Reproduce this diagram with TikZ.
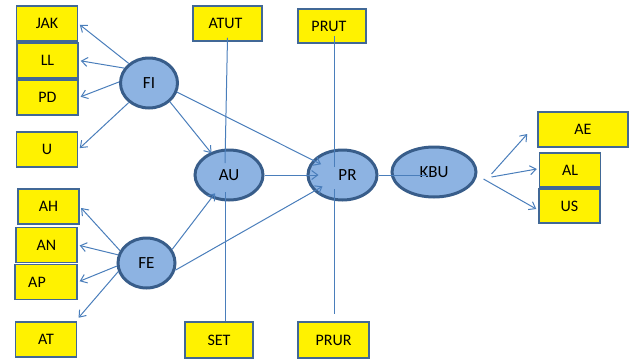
\documentclass[tikz,border=0pt]{standalone}
\usepackage{fontspec}
\setmainfont{Carlito}
\usetikzlibrary{shapes.geometric,arrows.meta}
\definecolor{boxline}{RGB}{65,104,150}
\definecolor{ellfill}{RGB}{141,179,226}
\definecolor{ellline}{RGB}{56,93,138}
\definecolor{linkblue}{RGB}{74,126,187}

\begin{document}
\begin{tikzpicture}[
x=1pt,y=-1pt,
box/.style={
  draw=boxline,
  fill=yellow,
  line width=1.5pt,
  minimum width=61pt,
  minimum height=35pt,
  inner sep=0pt,
  font=\fontsize{16}{18}\selectfont
  },
latent/.style={
  ellipse,
  draw=ellline,
  fill=ellfill,
  line width=3pt,
  minimum height=50pt,
  inner sep=0pt,
  font=\fontsize{17}{19}\selectfont
  },
link/.style={
  draw=linkblue,
  line width=1pt
  },
>={Straight Barb[length=6pt,width=9pt]}
]
\useasboundingbox (0,0) rectangle (629,362);

% indicators
\node[box] (JAK) at (47,23.5) {JAK};
\node[box] (LL) at (47.5,60.5) {LL};
\node[box] (PD) at (47.5,97.5) {PD};
\node[box] (U) at (47,149.5) {U};
\node[box] (AH) at (48.5,206.5) {AH};
\node[box] (AN) at (46.5,245) {AN};
\node[box, minimum width=62pt] (AP) at (46,282) {\hspace*{-18pt}AP};
\node[box] (AT) at (46,339.5) {AT};
\node[box, minimum width=69pt] (ATUT) at (227.5,23.5) {\hspace*{-4pt}ATUT};
\node[box, minimum width=68pt, minimum height=34pt] (PRUT) at (332,26) {\hspace*{-6pt}PRUT};
\node[box, minimum width=68pt, minimum height=36pt] (SET) at (219,340) {SET};
\node[box, minimum width=71pt, minimum height=36pt] (PRUR) at (333.5,340) {PRUR};
\node[box, minimum width=90pt] (AE) at (583,129.5) {AE};
\node[box, minimum height=34pt] (AL) at (570,170) {AL};
\node[box, minimum height=34pt] (US) at (569.5,206) {US};

% latent variables
\node[latent, minimum width=57pt] (FI) at (149,83) {FI};
\node[latent, minimum width=57pt] (FE) at (146.5,263) {FE};
\node[latent, minimum width=68pt] (AU) at (229,175) {AU};
\node[latent, minimum width=69pt] (PR) at (342.5,175) {\hspace*{10pt}PR};
\node[latent, minimum width=84pt] (KBU) at (434,172) {KBU};

% vertical lines
\draw[link] ([yshift=4pt]ATUT.south) -- ([xshift=-4pt,yshift=12pt]AU.center);
\draw[link] ([xshift=-4pt,yshift=-17pt]AU.center) -- ([xshift=6pt]SET.north);
\draw[link] ([xshift=2pt,yshift=8pt]PRUT.south) -- ([xshift=-8.5pt,yshift=8pt]PR.center);
\draw[link] ([xshift=-8.5pt,yshift=-14pt]PR.center) -- ([xshift=0.5pt,yshift=7pt]PRUR.north);

% FI and FE to indicators
\foreach \ang/\ind in {136/JAK,149/LL,178/PD,224/U}
  \draw[link,->,shorten >=2pt] (FI.\ang) -- (\ind.east);
\foreach \ang/\ind in {155/AH,164/AN,186/AP}
  \draw[link,->,shorten >=2pt] (FE.\ang) -- (\ind.east);
\draw[link,->,shorten >=2pt] (FE.197) -- ([yshift=2pt]AT.north east);

% inner model
\draw[link,->,shorten >=28pt] (FI.318) -- (AU.center);
\draw[link,->,shorten >=24pt] (FI.342) -- (PR.center);
\draw[link,->,shorten >=23pt] (FE.28) -- (AU.center);
\draw[link,->,shorten >=23pt] (FE.346) -- (PR.center);
\draw[link,->,shorten >=24pt] (AU) -- (PR.center);
\draw[link,shorten >=6pt] (PR) -- ([yshift=-3pt]KBU.center);

% KBU to indicators
\draw[link,->] ([xshift=14pt,yshift=-2pt]KBU.east) -- ([xshift=-10pt,yshift=-4.5pt]AE.west);
\draw[link,->] ([xshift=14pt,yshift=-5pt]KBU.east) -- ([xshift=-2pt,yshift=1pt]AL.west);
\draw[link,->] ([xshift=6pt,yshift=-7pt]KBU.east) -- ([xshift=-2pt,yshift=-3pt]US.west);
\end{tikzpicture}
\end{document}
